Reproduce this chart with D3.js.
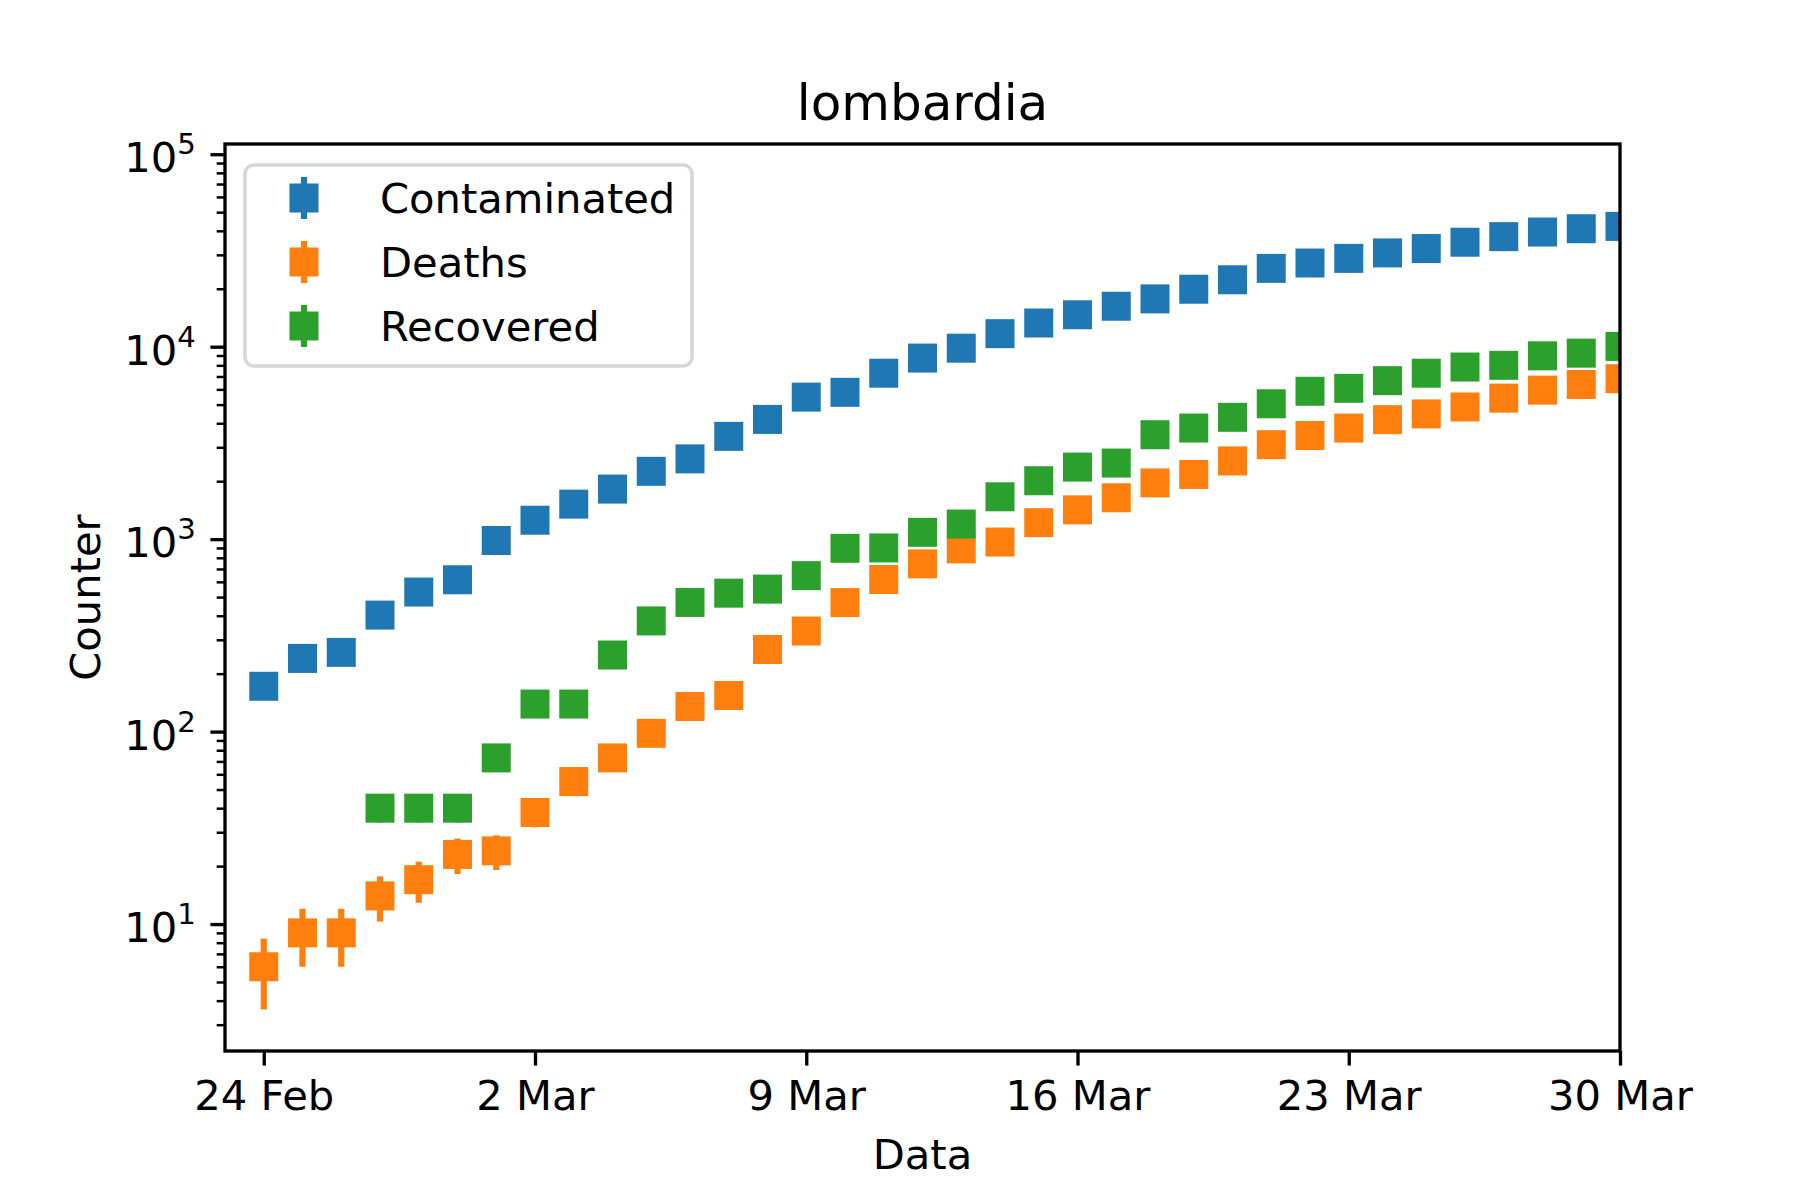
<!DOCTYPE html>
<html>
<head>
<meta charset="utf-8">
<script src="https://cdn.jsdelivr.net/npm/d3@7"></script>
<style>
  body { margin: 0; background: #fff; }
  text { font-family: "DejaVu Sans", sans-serif; fill: #000; }
</style>
</head>
<body>
<div id="chart"></div>
<script>
// Datos de la Lombardía (24 Feb - 30 Mar 2020)
const dates = ["2020-02-24","2020-02-25","2020-02-26","2020-02-27","2020-02-28","2020-02-29",
  "2020-03-01","2020-03-02","2020-03-03","2020-03-04","2020-03-05","2020-03-06","2020-03-07",
  "2020-03-08","2020-03-09","2020-03-10","2020-03-11","2020-03-12","2020-03-13","2020-03-14",
  "2020-03-15","2020-03-16","2020-03-17","2020-03-18","2020-03-19","2020-03-20","2020-03-21",
  "2020-03-22","2020-03-23","2020-03-24","2020-03-25","2020-03-26","2020-03-27","2020-03-28",
  "2020-03-29","2020-03-30"];

const contaminated = [172, 240, 258, 403, 531, 615, 984, 1254, 1520, 1820, 2251, 2612, 3420,
  4189, 5469, 5791, 7280, 8725, 9820, 11685, 13272, 14649, 16220, 17713, 19884, 22264, 25515,
  27206, 28761, 30703, 32346, 34889, 37298, 39415, 41007, 42161];
const contaminatedErr = [13.1, 15.5, 16.1, 20.1, 23.0, 24.8, 31.4, 35.4, 39.0, 42.7, 47.4, 51.1,
  58.5, 64.7, 74.0, 76.1, 85.3, 93.4, 99.1, 108.1, 115.2, 121.0, 127.4, 133.1, 141.0, 149.2,
  159.7, 164.9, 169.6, 175.2, 179.9, 186.8, 193.1, 198.5, 202.5, 205.3];

const deaths = [6, 9, 9, 14, 17, 23, 24, 38, 55, 73, 98, 135, 154, 267, 333, 468, 617, 744, 890,
  966, 1218, 1420, 1640, 1959, 2168, 2549, 3095, 3456, 3776, 4178, 4474, 4861, 5402, 5944,
  6360, 6818];
const deathsErr = [2.4, 3.0, 3.0, 3.7, 4.1, 4.8, 4.9, 6.2, 7.4, 8.5, 9.9, 11.6, 12.4, 16.3, 18.2,
  21.6, 24.8, 27.3, 29.8, 31.1, 34.9, 37.7, 40.5, 44.3, 46.6, 50.5, 55.6, 58.8, 61.4, 64.6,
  66.9, 69.7, 73.5, 77.1, 79.7, 82.6];

const recovered = [0, 0, 0, 40, 40, 40, 73, 139, 139, 250, 376, 469, 524, 550, 646, 896, 900,
  1085, 1198, 1660, 2011, 2368, 2485, 3488, 3778, 4295, 5050, 5865, 6075, 6657, 7281, 7839,
  8001, 8962, 9255, 10026];
const recoveredErr = [0, 0, 0, 6.3, 6.3, 6.3, 8.5, 11.8, 11.8, 15.8, 19.4, 21.7, 22.9, 23.5, 25.4,
  29.9, 30.0, 32.9, 34.6, 40.7, 44.8, 48.7, 49.8, 59.1, 61.5, 65.5, 71.1, 76.6, 77.9, 81.6,
  85.3, 88.5, 89.4, 94.7, 96.2, 100.1];

const seriesNames = ["Contaminated", "Deaths", "Recovered"];
const seriesColors = ["#1f77b4", "#ff7f0e", "#2ca02c"];

const xTickDates = ["2020-02-24", "2020-03-02", "2020-03-09", "2020-03-16", "2020-03-23", "2020-03-30"];
const xTickLabels = ["24 Feb", "2 Mar", "9 Mar", "16 Mar", "23 Mar", "30 Mar"];
const yTicks = [10, 100, 1000, 10000, 100000];
const yTickExp = ["1", "2", "3", "4", "5"];

// Configuración
const fullWidth = 1800;
const fullHeight = 1200;
const margin = { top: 144, right: 180, bottom: 149, left: 225 };
const width = fullWidth - margin.left - margin.right;
const height = fullHeight - margin.top - margin.bottom;

const pt = 300 / 72;
const fontSize = 10 * pt;

const parse = d3.utcParse("%Y-%m-%d");

const svg = d3.select("#chart")
  .append("svg")
  .attr("width", fullWidth)
  .attr("height", fullHeight)
  .append("g")
  .attr("transform", `translate(${margin.left}, ${margin.top})`);

// Escalas
const x = d3.scaleUtc()
  .domain([parse("2020-02-23"), parse("2020-03-30")])
  .range([0, width]);
const y = d3.scaleLog()
  .domain([2.19, 1.13e5])
  .range([height, 0]);

svg.append("clipPath")
  .attr("id", "clip")
  .append("rect")
  .attr("width", width)
  .attr("height", height);

// Series
const series = [
  { name: seriesNames[0], color: seriesColors[0], values: contaminated, errs: contaminatedErr },
  { name: seriesNames[1], color: seriesColors[1], values: deaths, errs: deathsErr },
  { name: seriesNames[2], color: seriesColors[2], values: recovered, errs: recoveredErr }
];

const markerSide = 29;
const plot = svg.append("g").attr("clip-path", "url(#clip)");

series.forEach(s => {
  const pts = dates.map((d, i) => ({ date: parse(d), v: s.values[i], e: s.errs[i] }))
    .filter(p => p.v > 0);
  const g = plot.append("g");

  g.selectAll(".err")
    .data(pts)
    .enter()
    .append("line")
    .attr("x1", d => x(d.date))
    .attr("x2", d => x(d.date))
    .attr("y1", d => y(Math.max(d.v - d.e, 1e-3)))
    .attr("y2", d => y(d.v + d.e))
    .attr("stroke", s.color)
    .attr("stroke-width", 1.5 * pt);

  g.selectAll(".mk")
    .data(pts)
    .enter()
    .append("rect")
    .attr("x", d => x(d.date) - markerSide / 2)
    .attr("y", d => y(d.v) - markerSide / 2)
    .attr("width", markerSide)
    .attr("height", markerSide)
    .attr("fill", s.color);
});

// Ejes
const xAxis = d3.axisBottom(x)
  .tickValues(xTickDates.map(parse))
  .tickSize(3.5 * pt)
  .tickPadding(3.5 * pt)
  .tickFormat((d, i) => xTickLabels[i]);

const gx = svg.append("g")
  .attr("transform", `translate(0, ${height})`)
  .call(xAxis);
gx.select(".domain").remove();
gx.selectAll(".tick line").attr("stroke", "#000").attr("stroke-width", 0.8 * pt);
gx.selectAll(".tick text")
  .attr("font-size", fontSize)
  .attr("font-family", "DejaVu Sans")
  .attr("fill", "#000");

const minorTicks = [];
[1, 10, 100, 1000, 10000].forEach(base => {
  for (let k = 2; k <= 9; k++) {
    const v = base * k;
    if (v > y.domain()[0] && v < y.domain()[1]) minorTicks.push(v);
  }
});

const gyMinor = svg.append("g")
  .call(d3.axisLeft(y).tickValues(minorTicks).tickSize(2 * pt).tickFormat(""));
gyMinor.select(".domain").remove();
gyMinor.selectAll(".tick line").attr("stroke", "#000").attr("stroke-width", 0.6 * pt);

const gy = svg.append("g")
  .call(d3.axisLeft(y).tickValues(yTicks).tickSize(3.5 * pt).tickFormat(""));
gy.select(".domain").remove();
gy.selectAll(".tick line").attr("stroke", "#000").attr("stroke-width", 0.8 * pt);

// Etiquetas 10^n
svg.selectAll(".ylab")
  .data(yTicks)
  .enter()
  .append("text")
  .attr("class", "ylab")
  .attr("x", -7 * pt)
  .attr("y", d => y(d) + 18)
  .attr("text-anchor", "end")
  .attr("font-size", fontSize)
  .each(function (d, i) {
    const t = d3.select(this);
    t.append("tspan").text("10");
    t.append("tspan")
      .attr("font-size", fontSize * 0.7)
      .attr("dy", -18)
      .text(yTickExp[i]);
  });

// Marco
svg.append("rect")
  .attr("width", width)
  .attr("height", height)
  .attr("fill", "none")
  .attr("stroke", "#000")
  .attr("stroke-width", 0.8 * pt);

// Títulos
svg.append("text")
  .attr("x", width / 2)
  .attr("y", 120 - margin.top)
  .attr("text-anchor", "middle")
  .attr("font-size", 12 * pt)
  .text("lombardia");

svg.append("text")
  .attr("x", width / 2)
  .attr("y", 1169 - margin.top)
  .attr("text-anchor", "middle")
  .attr("font-size", fontSize)
  .text("Data");

svg.append("text")
  .attr("transform", `translate(${100 - margin.left}, ${height / 2}) rotate(-90)`)
  .attr("text-anchor", "middle")
  .attr("font-size", fontSize)
  .text("Counter");

// Leyenda
const legend = svg.append("g")
  .attr("transform", `translate(${245 - margin.left}, ${165 - margin.top})`);

legend.append("rect")
  .attr("width", 447)
  .attr("height", 201)
  .attr("rx", 9)
  .attr("fill", "#fff")
  .attr("fill-opacity", 0.8)
  .attr("stroke", "#d6d6d6")
  .attr("stroke-width", 3.5);

series.forEach((s, i) => {
  const cy = 33 + i * 64;
  const row = legend.append("g");
  row.append("line")
    .attr("x1", 59).attr("x2", 59)
    .attr("y1", cy - 21).attr("y2", cy + 21)
    .attr("stroke", s.color)
    .attr("stroke-width", 1.5 * pt);
  row.append("rect")
    .attr("x", 59 - markerSide / 2)
    .attr("y", cy - markerSide / 2)
    .attr("width", markerSide)
    .attr("height", markerSide)
    .attr("fill", s.color);
  row.append("text")
    .attr("x", 135)
    .attr("y", cy + 15)
    .attr("font-size", fontSize)
    .text(s.name);
});
</script>
</body>
</html>
